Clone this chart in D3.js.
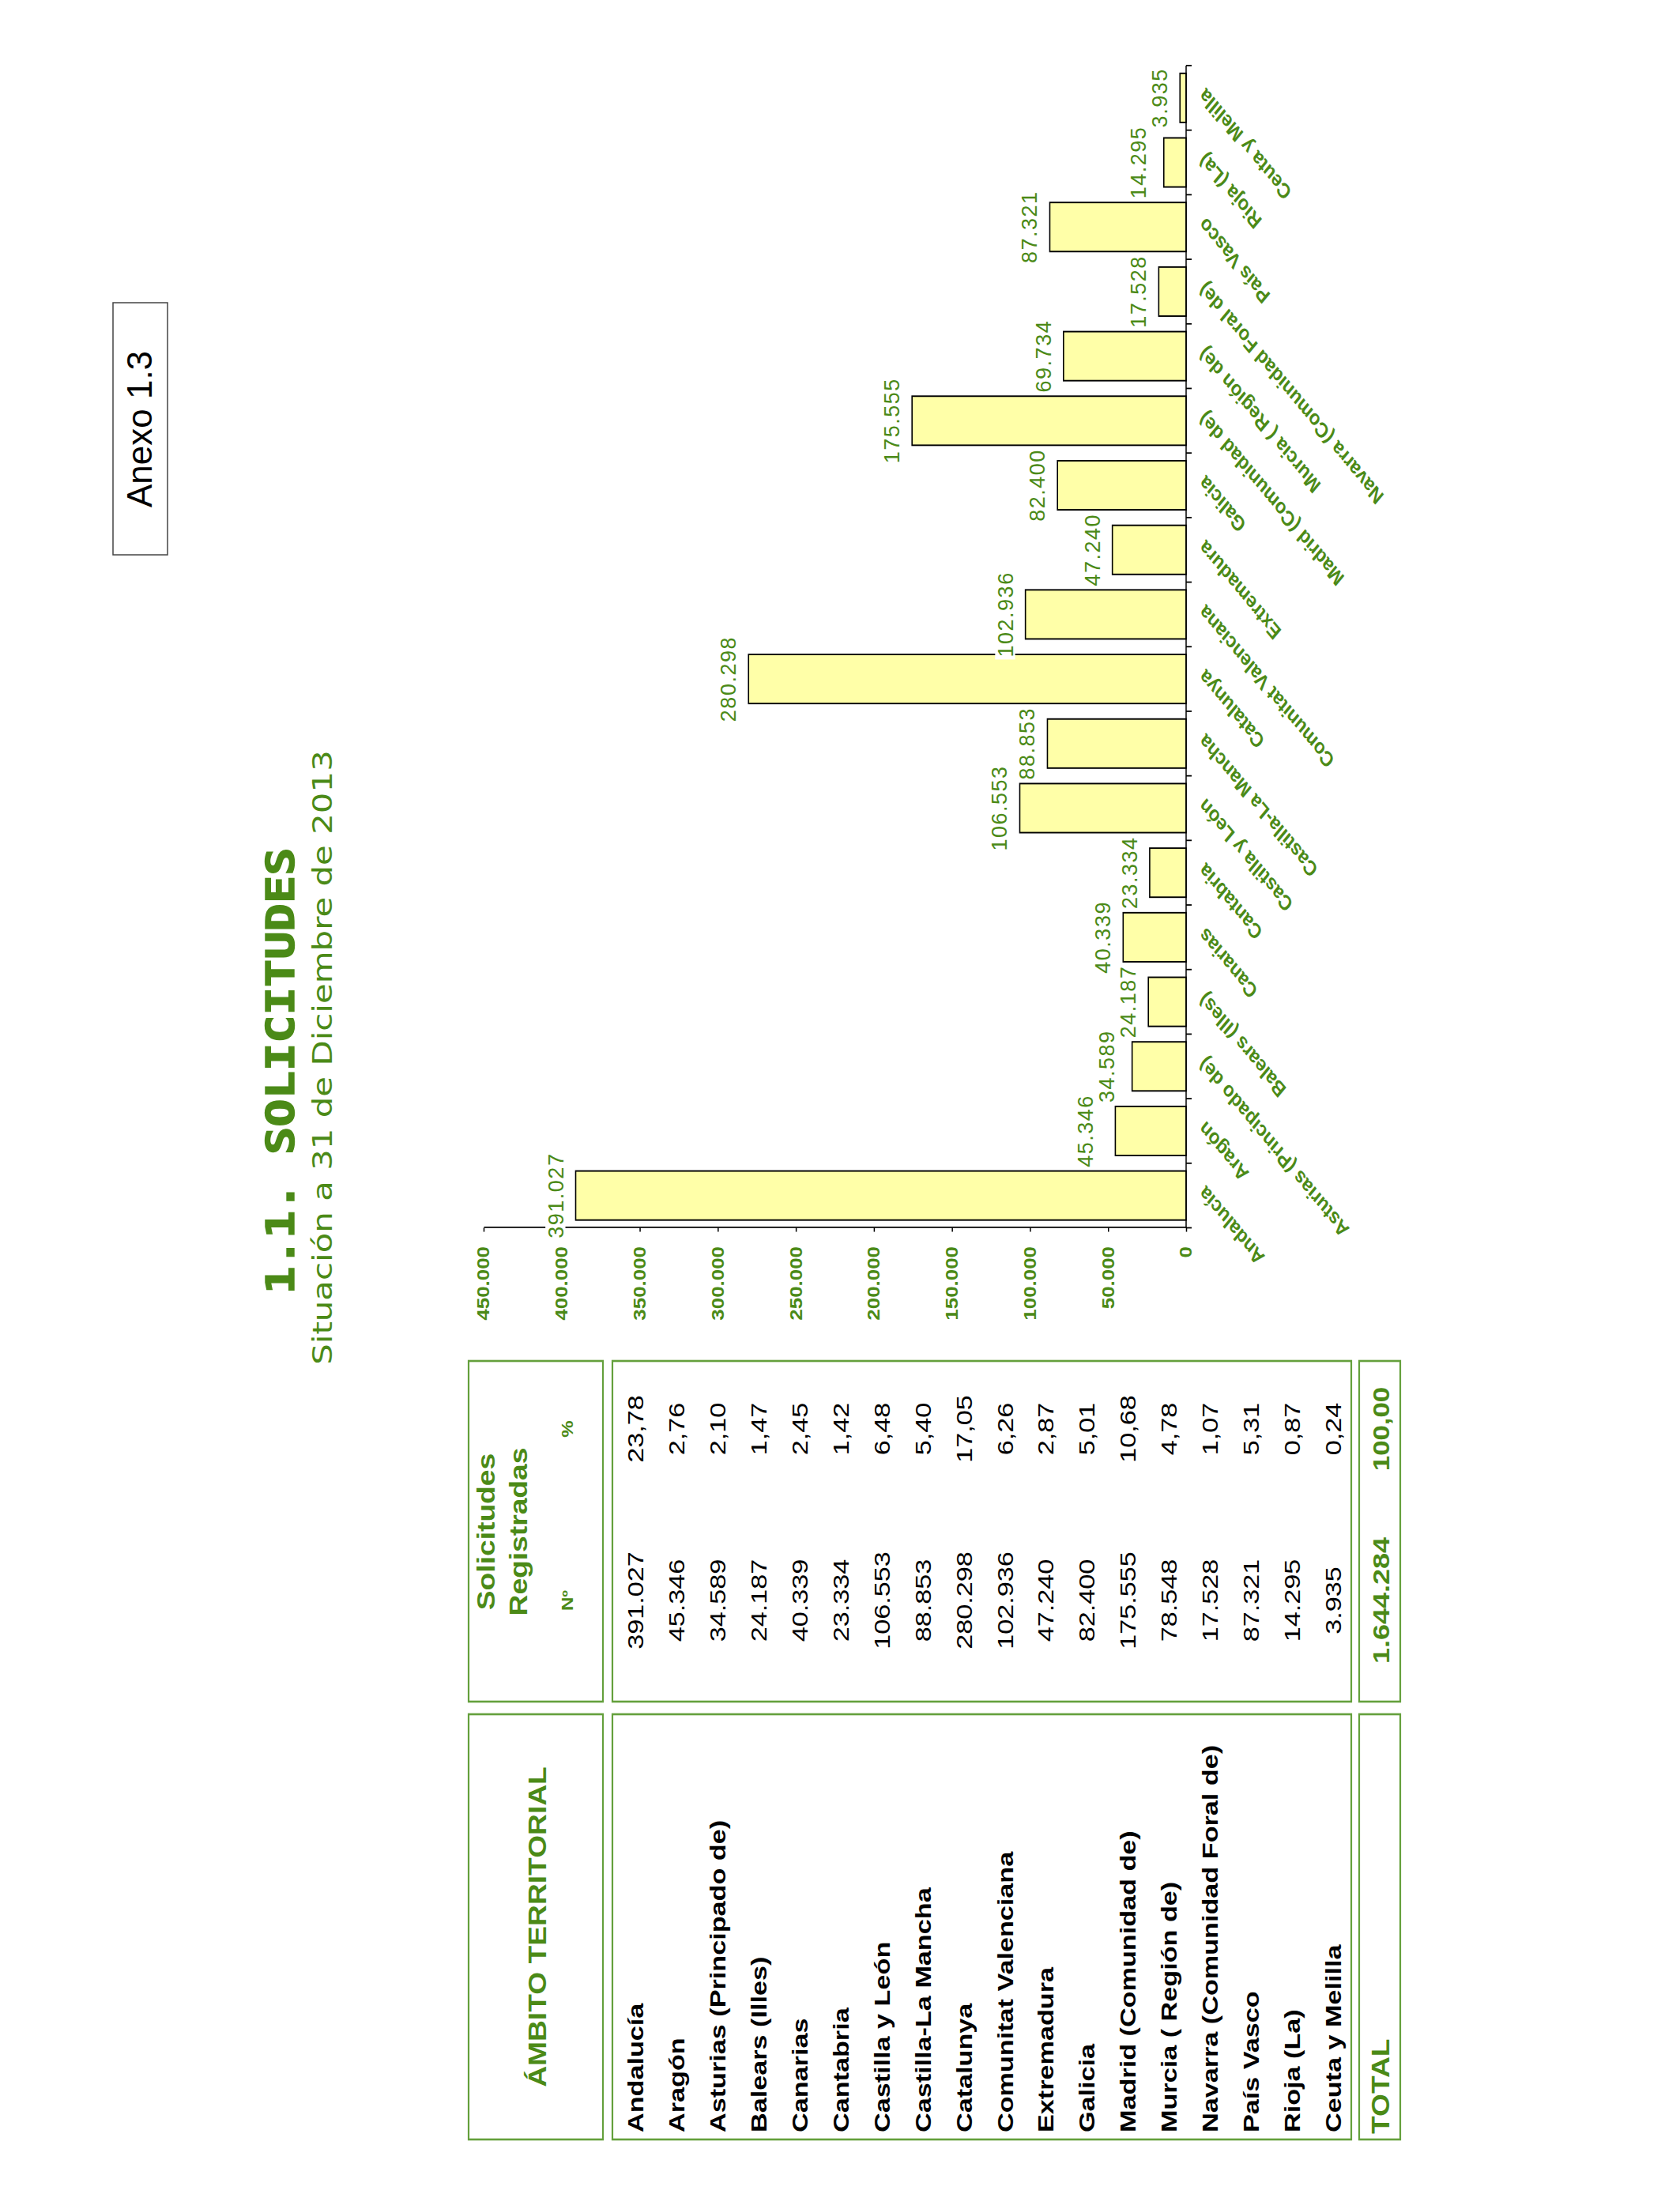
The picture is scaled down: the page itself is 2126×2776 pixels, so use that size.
<!DOCTYPE html>
<html>
<head>
<meta charset="utf-8">
<script src="https://cdn.jsdelivr.net/npm/d3@7"></script>
<style>
  body { margin: 0; background: #fff; }
</style>
</head>
<body>
<svg id="page" width="2126" height="2776"></svg>
<script>
// values
var regions = ["Andalucía", "Aragón", "Asturias (Principado de)", "Balears (Illes)", "Canarias",
    "Cantabria", "Castilla y León", "Castilla-La Mancha", "Catalunya", "Comunitat Valenciana",
    "Extremadura", "Galicia", "Madrid (Comunidad de)", "Murcia ( Región de)",
    "Navarra (Comunidad Foral de)", "País Vasco", "Rioja (La)", "Ceuta y Melilla"];
var solicitudes = [391027, 45346, 34589, 24187, 40339, 23334, 106553, 88853, 280298, 102936,
    47240, 82400, 175555, 78548, 17528, 87321, 14295, 3935];
var porcentajes = ["23,78", "2,76", "2,10", "1,47", "2,45", "1,42", "6,48", "5,40", "17,05", "6,26",
    "2,87", "5,01", "10,68", "4,78", "1,07", "5,31", "0,87", "0,24"];
// labels printed over the bars (Murcia shows 69.734 in the chart)
var etiquetas = ["391.027", "45.346", "34.589", "24.187", "40.339", "23.334", "106.553", "88.853",
    "280.298", "102.936", "47.240", "82.400", "175.555", "69.734", "17.528", "87.321", "14.295", "3.935"];
var totalN = "1.644.284", totalPct = "100,00";
var valueTicks = [0, 50000, 100000, 150000, 200000, 250000, 300000, 350000, 400000, 450000];

// the page is landscape, turned a quarter turn
var W = 2776;
var S = 1.2;          // content is stretched horizontally in the original
var green = "#4b8a17", border = "#64a03c", barFill = "#ffffa8";
var fmt = d3.formatLocale({decimal: ",", thousands: ".", grouping: [3], currency: ["", ""]}).format(",");
function ix(lx) { return lx / S; }

var svg = d3.select("#page");
var land = svg.append("g").attr("transform", "translate(0," + W + ") rotate(-90)");

// Anexo box (not stretched)
land.append("rect")
    .attr("x", 2074).attr("y", 143).attr("width", 319).attr("height", 69)
    .attr("fill", "none").attr("stroke", "#444").attr("stroke-width", 1.5);
land.append("text")
    .attr("x", 2233).attr("y", 192)
    .attr("text-anchor", "middle")
    .style("font", "44px 'Liberation Sans', Arial, sans-serif")
    .text("Anexo 1.3");

var g = land.append("g").attr("transform", "scale(" + S + ",1)");

// title
g.append("text")
    .attr("x", ix(1421)).attr("y", 372)
    .attr("text-anchor", "middle")
    .attr("textLength", 471).attr("lengthAdjust", "spacingAndGlyphs")
    .attr("fill", green).attr("stroke", green).attr("stroke-width", 1.4)
    .style("font", "bold 49px 'DejaVu Sans Mono', monospace")
    .text("1.1. SOLICITUDES");
g.append("text")
    .attr("x", ix(1438)).attr("y", 420)
    .attr("text-anchor", "middle")
    .attr("textLength", 648).attr("lengthAdjust", "spacingAndGlyphs")
    .attr("fill", green)
    .style("font", "34px 'DejaVu Sans', sans-serif")
    .text("Situación a 31 de Diciembre de 2013");

// ---------- table ----------
var colName = [ix(69), ix(607)], colVal = [ix(623), ix(1054)];
var rowHead = [593, 763], rowBody = [775, 1710], rowTot = [1720, 1772];
[rowHead, rowBody, rowTot].forEach(function (r) {
    [colName, colVal].forEach(function (c) {
        g.append("rect")
            .attr("x", c[0]).attr("y", r[0])
            .attr("width", c[1] - c[0]).attr("height", r[1] - r[0])
            .attr("fill", "none").attr("stroke", border).attr("stroke-width", 2.2);
    });
});

var nCenter = ix(751), pCenter = ix(968);
function hdr(x, y, size, txt) {
    g.append("text").attr("x", x).attr("y", y)
        .attr("text-anchor", "middle").attr("fill", green)
        .style("font", "bold " + size + "px 'Liberation Sans', Arial, sans-serif")
        .text(txt);
}
hdr(ix(338), 691, 31, "ÁMBITO TERRITORIAL");
hdr(ix(838), 626, 31, "Solicitudes");
hdr(ix(838), 667, 31, "Registradas");
hdr(nCenter, 725, 20, "Nº");
hdr(pCenter, 725, 20, "%");

var rowY = d3.scaleBand().domain(regions).range(rowBody);
var rows = g.append("g").selectAll("g").data(regions).enter().append("g")
    .attr("transform", function (d) { return "translate(0," + (rowY(d) + 39) + ")"; })
    .style("font-family", "'Liberation Sans', Arial, sans-serif")
    .style("font-size", "28.5px");
rows.append("text").attr("x", ix(78)).style("font-weight", "bold")
    .text(function (d) { return d; });
rows.append("text").attr("x", nCenter).attr("text-anchor", "middle")
    .text(function (d, i) { return fmt(solicitudes[i]); });
rows.append("text").attr("x", pCenter).attr("text-anchor", "middle")
    .text(function (d, i) { return porcentajes[i]; });

g.append("text").attr("x", ix(76)).attr("y", 1758).attr("fill", green)
    .style("font", "bold 31px 'Liberation Sans', Arial, sans-serif").text("TOTAL");
hdr(nCenter, 1758, 30, totalN);
hdr(pCenter, 1758, 29, totalPct);

// ---------- chart ----------
var x = d3.scaleBand().domain(regions)
    .range([ix(1222.5), ix(2693)])
    .paddingInner(0.24).paddingOuter(0.12);
var y = d3.scaleLinear().domain([0, 450000]).range([1501, 612]);
var y0 = y(0);

var chart = g.append("g");

chart.selectAll(".bar").data(regions).enter().append("rect")
    .attr("class", "bar")
    .attr("x", function (d) { return x(d); })
    .attr("y", function (d, i) { return y(solicitudes[i]); })
    .attr("width", x.bandwidth())
    .attr("height", function (d, i) { return y0 - y(solicitudes[i]); })
    .attr("fill", barFill).attr("stroke", "#000").attr("stroke-width", 1.6);

// value axis
var yAxis = chart.append("g")
    .attr("transform", "translate(" + x.range()[0] + ",0)")
    .call(d3.axisLeft(y).tickValues(valueTicks).tickSize(4.2).tickSizeOuter(0)
        .tickPadding(15.4).tickFormat(fmt));
yAxis.select(".domain").attr("stroke", "#000").attr("stroke-width", 1.5);
yAxis.selectAll(".tick line").attr("stroke", "#000").attr("stroke-width", 1.5);
yAxis.selectAll("text").attr("fill", green)
    .style("font", "bold 21.6px 'Liberation Sans', Arial, sans-serif");

// category axis, ticks on band edges
chart.append("line")
    .attr("x1", x.range()[0]).attr("x2", x.range()[1])
    .attr("y1", y0).attr("y2", y0)
    .attr("stroke", "#000").attr("stroke-width", 1.5);
chart.selectAll(".edge").data(d3.range(regions.length + 1)).enter().append("line")
    .attr("class", "edge")
    .attr("x1", function (i) { return x.range()[0] + i * x.step(); })
    .attr("x2", function (i) { return x.range()[0] + i * x.step(); })
    .attr("y1", y0).attr("y2", y0 + 7)
    .attr("stroke", "#000").attr("stroke-width", 1.5);

chart.selectAll(".cat").data(regions).enter().append("text")
    .attr("class", "cat")
    .attr("transform", function (d) {
        return "translate(" + (x(d) + x.bandwidth() / 2) + "," + (y0 + 14) + ") rotate(-45)";
    })
    .attr("dy", "0.71em")
    .attr("text-anchor", "end")
    .attr("fill", green)
    .style("font", "bold 22.3px 'Liberation Sans', Arial, sans-serif")
    .text(function (d) { return d; });

// data labels with white boxes (not stretched); a label that would hit
// its right-hand neighbour is lifted above it
var labSize = 27, cap = labSize * 0.716, pad = 3;
var labY = solicitudes.map(function (v) { return y(v) - 16; });
var lab = chart.selectAll(".lab").data(regions).enter().append("g").attr("class", "lab");
lab.append("rect").attr("fill", "#fff");
lab.append("text")
    .attr("text-anchor", "middle")
    .attr("fill", green)
    .style("font", labSize + "px 'Liberation Sans', Arial, sans-serif")
    .style("letter-spacing", "1.5px")
    .text(function (d, i) { return etiquetas[i]; });

var nodes = lab.nodes();
var prev = null;
for (var i = nodes.length - 1; i >= 0; i--) {
    var node = d3.select(nodes[i]);
    var b = node.select("text").node().getBBox();
    var boxTop = labY[i] - cap - pad, boxBot = labY[i] + pad;
    if (prev && boxTop < prev.bot && boxBot > prev.top) {
        var shift = boxBot - (prev.top - 2);
        labY[i] -= shift; boxTop -= shift; boxBot -= shift;
    }
    node.attr("transform", "translate(" + (x(regions[i]) + x.bandwidth() / 2) + "," + labY[i] +
        ") scale(" + (1 / S) + ",1)");
    node.select("rect")
        .attr("x", b.x - 3).attr("y", -cap - pad)
        .attr("width", b.width + 6).attr("height", cap + 2 * pad);
    prev = {top: boxTop, bot: boxBot};
}
</script>
</body>
</html>
